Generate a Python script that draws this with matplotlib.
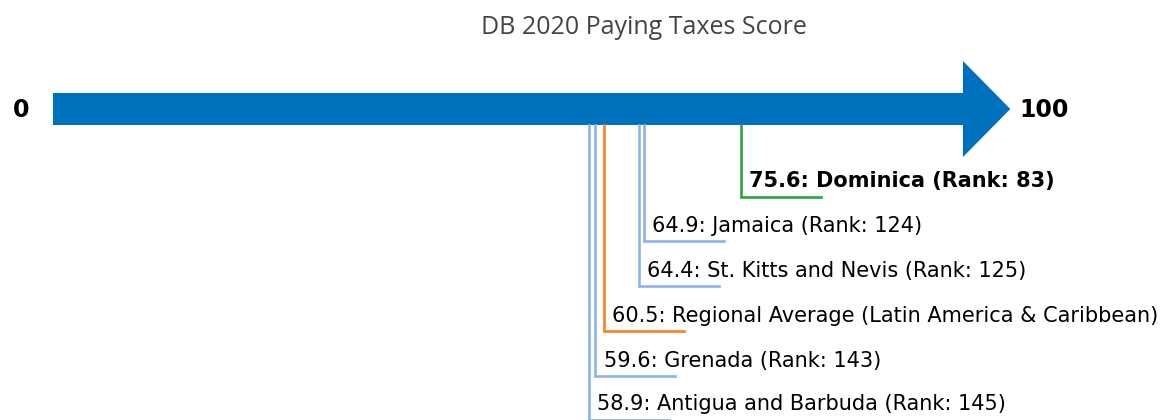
import matplotlib.pyplot as plt
from matplotlib.patches import Polygon

# scores
labels = ["Dominica", "Jamaica", "St. Kitts and Nevis",
          "Regional Average (Latin America & Caribbean)", "Grenada",
          "Antigua and Barbuda"]
scores = [75.6, 64.9, 64.4, 60.5, 59.6, 58.9]
ranks = [83, 124, 125, None, 143, 145]
colors = ["#2ca444", "#8ab4ea", "#8ab4ea", "#f5841f", "#8ab4ea", "#8ab4ea"]
bold = [True, False, False, False, False, False]

fig = plt.figure(figsize=(11.62, 4.2), dpi=100)
ax = fig.add_axes([0, 0, 1, 1])
ax.set_xlim(-5.82, 121.87)
ax.set_ylim(420, 0)
ax.axis("off")

# the arrow: shaft 0..100, head beyond
y0, half, head_half, head_len = 109, 16, 48, 5.2
pts = [(0, y0 - half), (100, y0 - half), (100, y0 - head_half),
       (100 + head_len, y0), (100, y0 + head_half), (100, y0 + half),
       (0, y0 + half)]
ax.add_patch(Polygon(pts, closed=True, color="#0071bc", lw=0))
ax.text(-2.6, y0 + 1, "0", ha="right", va="center", fontsize=17, fontweight="bold")
ax.text(100 + head_len + 1.0, y0 + 1, "100", ha="left", va="center",
        fontsize=17, fontweight="bold")

levels = [197, 241, 286, 331, 376, 420]
for lab, s, r, c, b, lv in zip(labels, scores, ranks, colors, bold, levels):
	ax.plot([s, s, s + 8.8], [y0 + half, lv, lv], color=c, lw=1.9,
	        solid_joinstyle="miter", clip_on=False)
	txt = f"{s}: {lab}" if r is None else f"{s}: {lab} (Rank: {r})"
	ax.text(s + 0.9, lv - 15.5, txt, ha="left", va="center", fontsize=15,
	        fontweight="bold" if b else "normal")

fig.text(644/1162, 1 - 27/420, "DB 2020 Paying Taxes Score", ha="center",
         va="center", fontsize=18, color="#444444", family="Open Sans")

fig.savefig("out.png", dpi=100)
